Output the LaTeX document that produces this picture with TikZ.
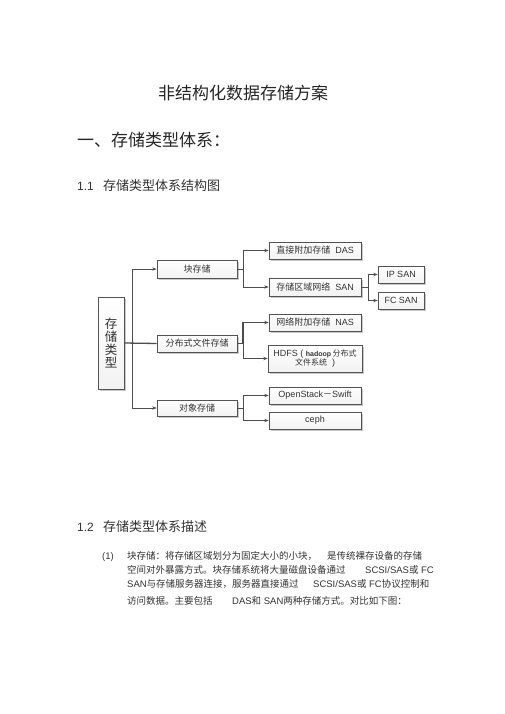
\documentclass[tikz,border=0pt]{standalone}
\usepackage{fontspec}
\setmainfont{Liberation Sans}
\newfontfamily\cjk{Noto Sans CJK SC}
\usetikzlibrary{arrows.meta,shadows}
\newcommand\zh[1]{{\cjk #1}}
\begin{document}
\begin{tikzpicture}[x=1pt,y=-1pt,
  box/.style={draw=gray!65!black, line width=0.6pt, top color=white, bottom color=gray!10, inner sep=0pt,
    drop shadow={shadow xshift=1.6pt, shadow yshift=-1.6pt, fill=gray!60, opacity=0.7},
    font=\fontsize{9}{10}\selectfont, text=black!80},
  conn/.style={draw=black!70, line width=0.7pt},
  thk/.style={line width=1.3pt},
  arr/.style={conn, -{Stealth[length=4.5pt,width=3.4pt]}},
  txt/.style={anchor=base west, inner sep=0pt, text=black!80},
  ptxt/.style={txt, font=\fontsize{9.5}{10}\selectfont},
]
\useasboundingbox[fill=white] (0,0) rectangle (505,714);

% headings
\node[txt, font=\fontsize{17}{17}\selectfont\cjk, text=black!85] (title) at (158,99.5) {非结构化数据存储方案};
\node[txt, font=\fontsize{17}{17}\selectfont\cjk, text=black!85] (h1) at (77,146.5) {一、存储类型体系：};
\node[txt, font=\fontsize{12}{12}\selectfont] (n11) at (77,190) {1.1};
\node[txt, font=\fontsize{13}{13}\selectfont\cjk] (h11) at (103,190) {存储类型体系结构图};
\node[txt, font=\fontsize{12}{12}\selectfont] (n12) at (77,531) {1.2};
\node[txt, font=\fontsize{13}{13}\selectfont\cjk] (h12) at (103,531) {存储类型体系描述};

% diagram boxes
\node[box, minimum width=26pt, minimum height=92pt, align=center,
      font=\fontsize{12.5}{13.3}\selectfont\cjk] (root) at (111,343) {存\\储\\类\\型};
\node[box, minimum width=80pt, minimum height=18pt] (b1) at (197,269) {\zh{块存储}};
\node[box, minimum width=80pt, minimum height=17pt] (b2) at (197,343.5) {\zh{分布式文件存储}};
\node[box, minimum width=80pt, minimum height=16pt] (b3) at (197,408) {\zh{对象存储}};
\node[box, minimum width=92pt, minimum height=17pt] (das) at (315,250.5) {\zh{直接附加存储}\ \ DAS};
\node[box, minimum width=92pt, minimum height=18pt] (san) at (315,287) {\zh{存储区域网络}\ \ SAN};
\node[box, minimum width=46pt, minimum height=17pt] (ipsan) at (401,274.5) {IP SAN};
\node[box, minimum width=46pt, minimum height=17pt] (fcsan) at (401,300.5) {FC SAN};
\node[box, minimum width=92pt, minimum height=17pt] (nas) at (315,322.5) {\zh{网络附加存储}\ \ NAS};
\node[box, minimum width=94pt, minimum height=27pt, align=center] (hdfs) at (315,358.5)
  {HDFS ( {\fontsize{7}{8}\selectfont\bfseries hadoop}\,{\fontsize{8}{9}\selectfont\cjk 分布式}\\[-1pt]{\fontsize{8}{9}\selectfont\cjk 文件系统}\ \ )};
\node[box, minimum width=92pt, minimum height=17pt] (os) at (315,395.5) {OpenStack\zh{－}Swift};
\node[box, minimum width=92pt, minimum height=17pt] (ceph) at (315,420.5) {ceph};

% junctions
\coordinate (j1) at (132,343);
\coordinate (j2) at (243,269);
\coordinate (j3) at (243,343.5);
\coordinate (j4) at (368,287);
\coordinate (j5) at (243,408);

% connectors
\draw[conn, thk] (root.east) -- (b2.west);
\draw[arr] (j1) |- (b1.west);
\draw[arr] (j1) |- (b3.west);
\draw[conn] (b1.east) -- (j2);
\draw[arr] (j2) |- (das.west);
\draw[arr] (j2) |- (san.west);
\draw[conn] (san.east) -- (j4);
\draw[arr] (j4) |- (ipsan.west);
\draw[arr] (j4) |- (fcsan.west);
\draw[conn, thk] (b2.east) -- (j3);
\draw[arr, thk] (j3) |- (nas.west);
\draw[arr] (j3) |- (hdfs.west);
\draw[conn] (b3.east) -- (j5);
\draw[arr] (j5) |- (os.west);
\draw[arr] (j5) |- (ceph.west);

% paragraph
\node[ptxt] (p0) at (102,559.6) {(1)};
\node[ptxt] (p1a) at (127,559.6) {\zh{块存储：将存储区域划分为固定大小的小块，}};
\node[ptxt] (p1b) at (327,559.6) {\zh{是传统裸存设备的存储}};
\node[ptxt] (p2a) at (127,573) {\zh{空间对外暴露方式。块存储系统将大量磁盘设备通过}};
\node[ptxt] (p2b) at (365,573) {SCSI/SAS\zh{或} FC};
\node[ptxt] (p3a) at (127,587.6) {SAN\zh{与存储服务器连接，服务器直接通过}};
\node[ptxt] (p3b) at (313,587.6) {SCSI/SAS\zh{或} FC\zh{协议控制和}};
\node[ptxt] (p4a) at (127,604.5) {\zh{访问数据。主要包括}};
\node[ptxt] (p4b) at (232,604.5) {DAS\zh{和} SAN\zh{两种存储方式。对比如下图：}};
\end{tikzpicture}
\end{document}
